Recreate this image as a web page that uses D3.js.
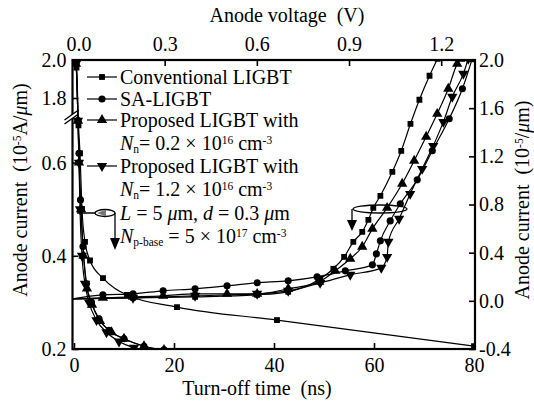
<!DOCTYPE html>
<html><head><meta charset="utf-8">
<script src="https://cdn.jsdelivr.net/npm/d3@7/dist/d3.min.js"></script>
<style>
body{margin:0;background:#fff}
svg{display:block}
svg text, svg tspan{font-family:"Liberation Serif","Times New Roman",Times,serif !important;}
</style>
</head><body>
<svg id="c" width="534" height="408"></svg>
<script>
// ---------- data ----------
const timeTicks = [0, 20, 40, 60, 80];
const voltTicks = [0.0, 0.3, 0.6, 0.9, 1.2];
const leftTicks = [0.2, 0.4, 0.6, 1.8, 2.0];
const rightTicks = [-0.4, 0.0, 0.4, 0.8, 1.2, 1.6, 2.0];

// turn-off transients: [time ns, anode current 1e-5 A/um]
const offConv = [[0,2.0],[0.5,1.96],[0.9,0.68],[1.2,0.62],[1.6,0.5],[2.2,0.43],[3.2,0.39],[5.8,0.352],[10.6,0.316],[20.6,0.29],[40.6,0.262],[80,0.206]];
const offSA   = [[0,2.0],[0.4,1.98],[0.8,0.69],[1.0,0.62],[1.3,0.52],[1.8,0.42],[2.5,0.34],[3.5,0.30],[5,0.265],[7,0.24],[10,0.222],[14,0.206],[18,0.198]];
const offP02  = [[0,2.0],[0.4,1.98],[0.8,0.69],[1.0,0.60],[1.4,0.50],[1.9,0.40],[2.6,0.33],[3.6,0.295],[5.2,0.26],[7.5,0.236],[10,0.222],[14,0.206],[18,0.198]];
const offP12  = [[0,2.0],[0.4,1.98],[0.8,0.69],[1.0,0.60],[1.2,0.50],[1.6,0.40],[2.2,0.34],[3.0,0.30],[4.5,0.262],[6.5,0.236],[9,0.216],[12,0.203],[16,0.196]];

// forward I-V: [anode voltage V, anode current 1e-5 A/um]
const ivConv = [[0,0.017],[0.197,0.025],[0.399,0.033],[0.601,0.05],[0.702,0.075],[0.806,0.183],[0.849,0.266],[0.884,0.365],[0.914,0.49],[0.943,0.573],[0.963,0.673],[0.979,0.772],[1.002,0.872],[1.041,1.071],[1.070,1.246],[1.100,1.47],[1.129,1.67],[1.162,1.869],[1.188,2.01]];
const ivSA   = [[0,0.017],[0.099,0.05],[0.197,0.058],[0.295,0.083],[0.399,0.10],[0.503,0.125],[0.601,0.15],[0.702,0.166],[0.796,0.199],[0.888,0.249],[0.976,0.299],[0.989,0.39],[1.002,0.498],[1.034,0.664],[1.067,0.806],[1.122,1.005],[1.171,1.246],[1.226,1.512],[1.269,1.761],[1.301,2.01]];
const ivP02  = [[0,0.017],[0.099,0.025],[0.197,0.033],[0.295,0.042],[0.399,0.058],[0.503,0.058],[0.601,0.058],[0.702,0.10],[0.803,0.158],[0.855,0.249],[0.904,0.349],[0.943,0.449],[0.976,0.598],[1.024,0.772],[1.073,0.972],[1.112,1.163],[1.151,1.362],[1.187,1.553],[1.223,1.761],[1.252,1.968],[1.262,2.01]];
const ivP12  = [[0,0.017],[0.197,0.025],[0.399,0.042],[0.601,0.058],[0.702,0.083],[0.806,0.149],[0.904,0.216],[1.005,0.274],[1.024,0.365],[1.028,0.49],[1.063,0.681],[1.099,0.888],[1.138,1.096],[1.174,1.287],[1.207,1.486],[1.236,1.694],[1.272,1.885],[1.288,2.01]];

// ---------- layout ----------
const L = 72.5, R = 475, T = 60, B = 349;
const FONT = '"Liberation Serif","Times New Roman",Times,serif';
const svg = d3.select('#c').style('font-family', FONT);

const xT = d3.scaleLinear().domain([-0.3, 80.2]).range([L, R]);
const xV = d3.scaleLinear().domain([0, 1.31]).range([L, R]);
const yL = d3.scaleLinear().domain([0.2, 0.7, 1.7, 2.0]).range([B, 116, 117, T]);
const yR = d3.scaleLinear().domain([-0.4, 2.0]).range([B, T]);

svg.append('defs').append('clipPath').attr('id', 'clip')
  .append('rect').attr('x', L).attr('y', T - 1).attr('width', R - L).attr('height', B - T + 1);

const fmt1 = v => d3.format('.1f')(v).replace('\u2212', '-');

function styleAxis(g) {
  g.attr('font-family', null).attr('font-size', null);
  g.select('.domain').remove();
  g.selectAll('.tick line').attr('stroke', '#000').attr('stroke-width', 1.6);
  g.selectAll('.tick text').attr('font-size', 20).attr('fill', '#000');
}

svg.append('g').attr('transform', `translate(0,${B})`)
  .call(d3.axisBottom(xT).tickValues(timeTicks).tickSizeInner(-6).tickSizeOuter(0).tickPadding(9).tickFormat(d3.format('d')))
  .call(styleAxis);
const topAx = svg.append('g').attr('transform', `translate(0,${T})`)
  .call(d3.axisTop(xV).tickValues(voltTicks).tickSizeInner(-6).tickSizeOuter(0).tickPadding(9).tickFormat(fmt1))
  .call(styleAxis);
topAx.selectAll('.tick text').filter(d => d === 0).attr('dx', 6);
svg.append('g').attr('transform', `translate(${L},0)`)
  .call(d3.axisLeft(yL).tickValues(leftTicks).tickSizeInner(-6).tickSizeOuter(0).tickPadding(6).tickFormat(fmt1))
  .call(styleAxis);
svg.append('g').attr('transform', `translate(${R},0)`)
  .call(d3.axisRight(yR).tickValues(rightTicks).tickSizeInner(-6).tickSizeOuter(0).tickPadding(4).tickFormat(fmt1))
  .call(styleAxis);

// frame
svg.append('rect').attr('x', L).attr('y', T).attr('width', R - L).attr('height', B - T)
  .attr('fill', 'none').attr('stroke', '#000').attr('stroke-width', 2.2);

// axis break marks on left axis
const brk = svg.append('g').attr('stroke', '#000').attr('stroke-width', 1.4);
brk.append('polygon').attr('points', `${L-8},120 ${L+6},110 ${L+6},114 ${L-8},124`).attr('fill', '#fff').attr('stroke', 'none');
brk.append('line').attr('x1', L - 8).attr('y1', 120).attr('x2', L + 6).attr('y2', 110);
brk.append('line').attr('x1', L - 8).attr('y1', 124).attr('x2', L + 6).attr('y2', 114);

// ---------- curves ----------
const plot = svg.append('g').attr('clip-path', 'url(#clip)');
const sym = {
  sq: d3.symbol().type(d3.symbolSquare).size(34),
  ci: d3.symbol().type(d3.symbolCircle).size(40),
  tu: d3.symbol().type(d3.symbolTriangle).size(46),
  td: d3.symbol().type(d3.symbolTriangle).size(46)
};
function drawSeries(data, xs, ys, mk) {
  const line = d3.line().x(d => xs(d[0])).y(d => ys(d[1])).curve(d3.curveMonotoneX);
  plot.append('path').datum(data).attr('d', line).attr('fill', 'none').attr('stroke', '#000').attr('stroke-width', 1.2);
  plot.selectAll(null).data(data.slice(1)).enter().append('path')
    .attr('d', sym[mk]())
    .attr('transform', d => `translate(${xs(d[0])},${ys(d[1])})` + (mk === 'td' ? ' rotate(180)' : ''))
    .attr('fill', '#000');
}
drawSeries(offConv, xT, yL, 'sq');
drawSeries(offSA, xT, yL, 'ci');
drawSeries(offP02, xT, yL, 'tu');
drawSeries(offP12, xT, yL, 'td');
drawSeries(ivConv, xV, yR, 'sq');
drawSeries(ivSA, xV, yR, 'ci');
drawSeries(ivP02, xV, yR, 'tu');
drawSeries(ivP12, xV, yR, 'td');

// ---------- annotations ----------
const ann = svg.append('g').attr('stroke', '#000').attr('stroke-width', 1.3);
ann.append('line').attr('x1', 77).attr('y1', 213).attr('x2', 115).attr('y2', 213);
ann.append('ellipse').attr('cx', 105).attr('cy', 213).attr('rx', 10).attr('ry', 3.5).attr('fill', '#fff');
ann.append('path').attr('d', 'M97,213 L106,209.5 L106,216.5 Z').attr('fill', '#777').attr('stroke', 'none');
ann.append('line').attr('x1', 115).attr('y1', 213).attr('x2', 115).attr('y2', 240);
ann.append('path').attr('d', 'M110,238 L120,238 L115,250 Z').attr('fill', '#000').attr('stroke', 'none');
ann.append('ellipse').attr('cx', 380).attr('cy', 209).attr('rx', 27).attr('ry', 4).attr('fill', 'none');
ann.append('line').attr('x1', 352).attr('y1', 209).attr('x2', 352).attr('y2', 222);
ann.append('path').attr('d', 'M347,220 L357,220 L352,231 Z').attr('fill', '#000').attr('stroke', 'none');

// ---------- legend ----------
function rich(sel, parts) {
  let shift = 0;
  parts.forEach(p => {
    const ts = sel.append('tspan').text(p.t);
    const target = p.sup ? -6 : p.sub ? 3 : 0;
    const dy = target - shift; shift = target;
    if (dy) ts.attr('dy', dy);
    if (p.sup || p.sub) ts.attr('font-size', 11.5);
    if (p.i) ts.attr('font-style', 'italic');
  });
}
const legRows = [
  {y: 77, mk: 'sq', parts: [{t: 'Conventional LIGBT'}]},
  {y: 99, mk: 'ci', parts: [{t: 'SA-LIGBT'}]},
  {y: 120, mk: 'tu', parts: [{t: 'Proposed LIGBT with'}]},
  {y: 143, parts: [{t: 'N', i: 1}, {t: 'n', sub: 1}, {t: '= 0.2 \u00d7 10'}, {t: '16', sup: 1}, {t: ' cm'}, {t: '-3', sup: 1}]},
  {y: 166, mk: 'td', parts: [{t: 'Proposed LIGBT with'}]},
  {y: 189, parts: [{t: 'N', i: 1}, {t: 'n', sub: 1}, {t: '= 1.2 \u00d7 10'}, {t: '16', sup: 1}, {t: ' cm'}, {t: '-3', sup: 1}]},
  {y: 213, parts: [{t: 'L', i: 1}, {t: ' = 5 '}, {t: '\u03bc', i: 1}, {t: 'm, '}, {t: 'd', i: 1}, {t: ' = 0.3 '}, {t: '\u03bc', i: 1}, {t: 'm'}]},
  {y: 236, parts: [{t: 'N', i: 1}, {t: 'p-base', sub: 1}, {t: ' = 5 \u00d7 10'}, {t: '17', sup: 1}, {t: ' cm'}, {t: '-3', sup: 1}]}
];
const leg = svg.append('g');
legRows.forEach(r => {
  if (r.mk) {
    leg.append('line').attr('x1', 87).attr('x2', 117).attr('y1', r.y).attr('y2', r.y).attr('stroke', '#000').attr('stroke-width', 1.2);
    leg.append('path').attr('d', sym[r.mk]()).attr('transform', `translate(102,${r.y})` + (r.mk === 'td' ? ' rotate(180)' : ''));
  }
  const t = leg.append('text').attr('x', 120).attr('y', r.y + 7).attr('font-size', 20);
  rich(t, r.parts);
});

// ---------- axis titles ----------
svg.append('text').attr('x', 287).attr('y', 22).attr('text-anchor', 'middle').attr('font-size', 20)
  .attr('xml:space', 'preserve').text('Anode voltage  (V)');
svg.append('text').attr('x', 257).attr('y', 395).attr('text-anchor', 'middle').attr('font-size', 20)
  .attr('xml:space', 'preserve').text('Turn-off time  (ns)');
const lt = svg.append('text').attr('transform', 'translate(27,190) rotate(-90)').attr('text-anchor', 'middle').attr('font-size', 20).attr('xml:space', 'preserve');
rich(lt, [{t: 'Anode current  (10'}, {t: '-5', sup: 1}, {t: 'A/'}, {t: '\u03bc', i: 1}, {t: 'm)'}]);
const rt = svg.append('text').attr('transform', 'translate(529,200) rotate(-90)').attr('text-anchor', 'middle').attr('font-size', 20).attr('xml:space', 'preserve');
rich(rt, [{t: 'Anode current  (10'}, {t: '-5', sup: 1}, {t: '/'}, {t: '\u03bc', i: 1}, {t: 'm)'}]);
</script>
</body></html>
